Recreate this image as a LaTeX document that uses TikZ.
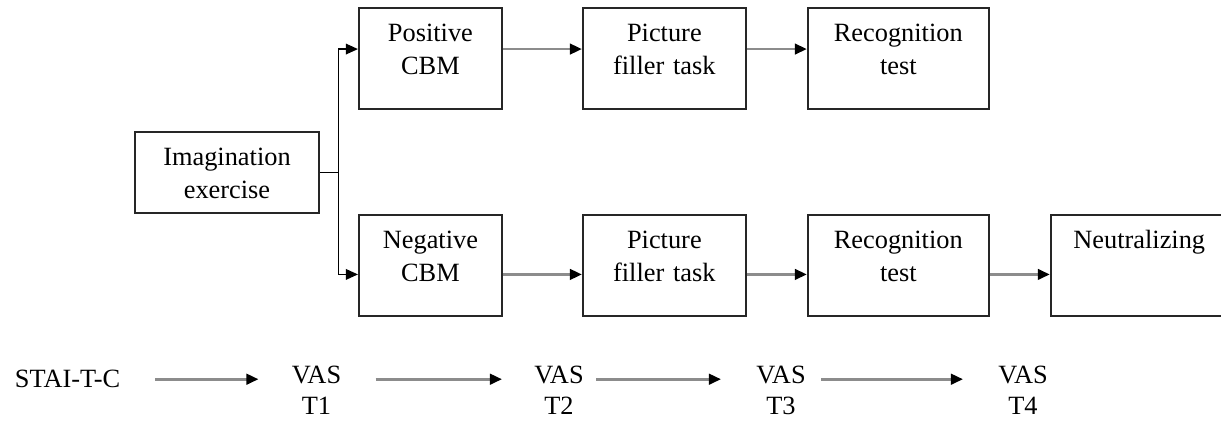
\documentclass[tikz,border=0pt]{standalone}
\usepackage{fontspec}
\setmainfont{Liberation Serif}
\usetikzlibrary{arrows.meta, positioning}
\newcommand{\boxfont}{\fontsize{15}{18.8}\selectfont}
\tikzset{
  stage/.style={rectangle, draw=black!85, line width=1.1pt, align=center, inner sep=0.1cm, text height=0.57cm, text depth=1.25cm, font=\boxfont},
  timept/.style={inner sep=0pt, align=center, anchor=north, font=\fontsize{15}{17.6}\selectfont},
  flowarrow/.style={draw=black!45, line width=1.5pt, -{Triangle[length=2.4mm,width=2.1mm,color=black]}},
  splitarrow/.style={draw=black, line width=0.85pt, -{Triangle[length=2.4mm,width=2.1mm]}}
}
\begin{document}
\begin{tikzpicture}
    \useasboundingbox (0,0) rectangle (24.42,-8.52);

    \node (imag) [stage, text width=3.48cm, text depth=0.85cm] at (4.54,-3.45) {Imagination\\exercise};
    \node (pos) [stage, text width=2.66cm, above right=0.42cm and 0.76cm of imag] {Positive\\CBM};
    \node (neg) [stage, text width=2.66cm, below right=0cm and 0.76cm of imag] {Negative\\CBM};
    \node (pic1) [stage, text width=3.06cm, right=1.58cm of pos] {Picture\\filler task};
    \node (rec1) [stage, text width=3.42cm, right=1.2cm of pic1] {Recognition\\test};
    \node (pic2) [stage, text width=3.06cm, right=1.58cm of neg] {Picture\\filler task};
    \node (rec2) [stage, text width=3.42cm, right=1.2cm of pic2] {Recognition\\test};
    \node (neut) [stage, text width=3.34cm, right=1.2cm of rec2] {Neutralizing};

    % split after the imagination exercise
    \draw[line width=0.85pt] (imag.east) -- ++(0.37,0) coordinate (split);
    \draw[splitarrow] (split) |- ([yshift=0.19cm]pos.west);
    \draw[splitarrow] (split) |- ([yshift=-0.18cm]neg.west);

    % positive condition
    \draw[flowarrow] ([yshift=0.19cm]pos.east) -- ([yshift=0.19cm]pic1.west);
    \draw[flowarrow] ([yshift=0.19cm]pic1.east) -- ([yshift=0.19cm]rec1.west);

    % negative condition
    \draw[flowarrow] ([yshift=-0.18cm]neg.east) -- ([yshift=-0.18cm]pic2.west);
    \draw[flowarrow] ([yshift=-0.18cm]pic2.east) -- ([yshift=-0.18cm]rec2.west);
    \draw[flowarrow] ([yshift=-0.18cm]rec2.east) -- ([yshift=-0.18cm]neut.west);

    % measurement points
    \node (stai) [timept] at (1.35,-7.4) {STAI-T-C};
    \node (vas1) [timept] at (6.33,-7.32) {VAS\\T1};
    \node (vas2) [timept] at (11.18,-7.32) {VAS\\T2};
    \node (vas3) [timept] at (15.62,-7.32) {VAS\\T3};
    \node (vas4) [timept] at (20.46,-7.32) {VAS\\T4};

    \draw[flowarrow, shorten <=0.7cm, shorten >=0.66cm] (stai.east) -- (vas1.west |- stai.east);
    \draw[flowarrow, shorten <=0.68cm, shorten >=0.64cm] (vas1.east |- stai.east) -- (vas2.west |- stai.east);
    \draw[flowarrow, shorten <=0.24cm, shorten >=0.7cm] (vas2.east |- stai.east) -- (vas3.west |- stai.east);
    \draw[flowarrow, shorten <=0.3cm, shorten >=0.7cm] (vas3.east |- stai.east) -- (vas4.west |- stai.east);
\end{tikzpicture}
\end{document}
